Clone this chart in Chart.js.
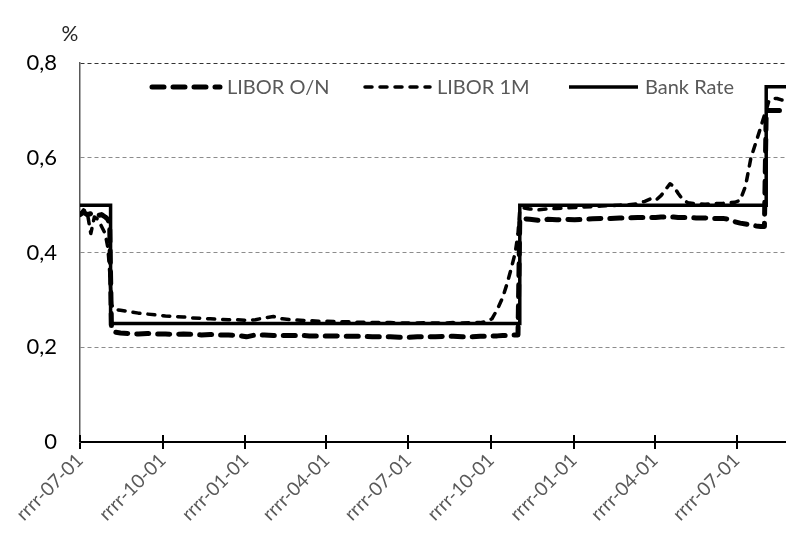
<!DOCTYPE html>
<html>
<head>
<meta charset="utf-8">
<script src="https://cdn.jsdelivr.net/npm/chart.js@4.4.1/dist/chart.umd.min.js"></script>
<style>
  html, body { margin: 0; padding: 0; background: #fff; }
  #wrap { width: 786px; height: 544px; position: relative; }
</style>
</head>
<body>
<div id="wrap"><canvas id="myChart"></canvas></div>
<script>
// days since 2016-07-01
var days = [0, 4, 8, 12, 16, 20, 24, 28, 31, 33, 35, 38, 45, 55, 65, 75, 85, 95, 105, 115,
    125, 135, 145, 155, 165, 175, 185, 195, 205, 215, 225, 235, 245, 255, 265, 275, 285, 295,
    305, 315, 325, 335, 345, 355, 365, 375, 385, 395, 405, 415, 425, 435, 445, 452, 458, 464,
    470, 475, 480, 484, 487, 489, 491, 500, 510, 520, 530, 540, 550, 560, 570, 580, 590, 600,
    610, 620, 628, 634, 640, 646, 652, 656, 660, 665, 670, 676, 685, 695, 705, 715, 722, 728,
    734, 740, 746, 752, 757, 761, 763, 766, 770, 775, 780, 785];

var liborON = [0.48, 0.485, 0.48, 0.482, 0.48, 0.478, 0.48, 0.475, 0.47, 0.46, 0.24, 0.232,
    0.23, 0.229, 0.228, 0.229, 0.228, 0.228, 0.227, 0.228, 0.227, 0.226, 0.227, 0.226, 0.226,
    0.225, 0.222, 0.226, 0.226, 0.225, 0.225, 0.225, 0.225, 0.224, 0.224, 0.224, 0.224, 0.223,
    0.223, 0.223, 0.222, 0.222, 0.222, 0.221, 0.221, 0.222, 0.222, 0.222, 0.223, 0.223, 0.222,
    0.222, 0.223, 0.223, 0.224, 0.224, 0.225, 0.225, 0.226, 0.226, 0.226, 0.47, 0.472, 0.47,
    0.468, 0.47, 0.469, 0.47, 0.469, 0.47, 0.471, 0.472, 0.472, 0.473, 0.473, 0.474, 0.474,
    0.474, 0.474, 0.475, 0.475, 0.475, 0.475, 0.474, 0.474, 0.474, 0.473, 0.473, 0.472, 0.472,
    0.47, 0.465, 0.462, 0.46, 0.458, 0.456, 0.455, 0.455, 0.70, 0.70, 0.70, 0.70, 0.70, 0.70];

var libor1M = [0.48, 0.49, 0.485, 0.44, 0.475, 0.47, 0.455, 0.44, 0.41, 0.36, 0.29, 0.28,
    0.278, 0.275, 0.272, 0.27, 0.268, 0.266, 0.265, 0.264, 0.262, 0.261, 0.26, 0.259, 0.258,
    0.258, 0.257, 0.258, 0.262, 0.265, 0.26, 0.258, 0.257, 0.256, 0.255, 0.255, 0.254, 0.254,
    0.253, 0.253, 0.252, 0.252, 0.252, 0.251, 0.251, 0.251, 0.252, 0.251, 0.251, 0.252, 0.251,
    0.252, 0.252, 0.254, 0.26, 0.28, 0.305, 0.335, 0.37, 0.40, 0.44, 0.49, 0.495, 0.492,
    0.49, 0.492, 0.493, 0.494, 0.495, 0.496, 0.497, 0.498, 0.499, 0.5, 0.501, 0.503, 0.508,
    0.513, 0.51, 0.52, 0.535, 0.545, 0.54, 0.525, 0.512, 0.505, 0.503, 0.502, 0.503, 0.504,
    0.505, 0.506, 0.51, 0.54, 0.60, 0.635, 0.665, 0.69, 0.70, 0.72, 0.725, 0.725, 0.722, 0.72];

var bankDays = [0, 34, 489, 763, 785];
var bankRate = [0.5, 0.25, 0.5, 0.75, 0.75];

var tickDays = [0, 92, 184, 274, 365, 457, 549, 639, 730];
var tickLabels = ["rrrr-07-01", "rrrr-10-01", "rrrr-01-01", "rrrr-04-01", "rrrr-07-01",
    "rrrr-10-01", "rrrr-01-01", "rrrr-04-01", "rrrr-07-01"];

var seriesNames = ["LIBOR O/N", "LIBOR 1M", "Bank Rate"];

function pts(xs, ys) {
    return xs.map(function (x, i) { return { x: x, y: ys[i] }; });
}

var FONT = "Lato, 'Open Sans', sans-serif";

// legend drawn inside the plot, plus "%" and inner tick marks
var extras = {
    id: "extras",
    afterDraw: function (chart) {
        var ctx = chart.ctx;
        var xs = chart.scales.x;
        var bottom = chart.chartArea.bottom;
        ctx.save();
        ctx.strokeStyle = "#000";
        ctx.lineWidth = 2;
        tickDays.forEach(function (d) {
            var px = Math.round(xs.getPixelForValue(d));
            ctx.beginPath();
            ctx.moveTo(px, bottom);
            ctx.lineTo(px, bottom - 7);
            ctx.stroke();
        });

        ctx.fillStyle = "#262626";
        ctx.font = "21px " + FONT;
        ctx.textAlign = "center";
        ctx.textBaseline = "middle";
        ctx.fillText("%", 70, 34);

        var items = [
            { x0: 152, x1: 220, tx: 227 },
            { x0: 365, x1: 430, tx: 437 },
            { x0: 569, x1: 638, tx: 645 }
        ];
        var ly = 87;
        ctx.textAlign = "left";
        ctx.font = "20px " + FONT;
        items.forEach(function (it, i) {
            var ds = chart.data.datasets[i];
            ctx.beginPath();
            ctx.setLineDash(ds.borderDash || []);
            ctx.lineWidth = ds.borderWidth;
            ctx.lineCap = ds.borderCapStyle || "butt";
            ctx.strokeStyle = "#000";
            ctx.moveTo(it.x0, ly);
            ctx.lineTo(it.x1, ly);
            ctx.stroke();
            ctx.setLineDash([]);
            ctx.fillStyle = "#595959";
            ctx.fillText(seriesNames[i], it.tx, ly + 1);
        });
        ctx.restore();
    }
};

document.addEventListener("DOMContentLoaded", function () {
    var ctx = document.getElementById("myChart").getContext("2d");
    new Chart(ctx, {
        type: "line",
        data: {
            datasets: [
                {
                    label: seriesNames[0],
                    data: pts(days, liborON),
                    borderColor: "#000",
                    borderWidth: 5,
                    borderDash: [12, 9],
                    borderCapStyle: "round",
                    borderJoinStyle: "round",
                    pointRadius: 0,
                    fill: false,
                },
                {
                    label: seriesNames[1],
                    data: pts(days, libor1M),
                    borderColor: "#000",
                    borderWidth: 3.5,
                    borderDash: [7, 8],
                    borderCapStyle: "round",
                    borderJoinStyle: "round",
                    pointRadius: 0,
                    fill: false,
                },
                {
                    label: seriesNames[2],
                    data: pts(bankDays, bankRate),
                    borderColor: "#000",
                    borderWidth: 3.5,
                    stepped: "before",
                    pointRadius: 0,
                    fill: false,
                },
            ],
        },
        options: {
            responsive: true,
            maintainAspectRatio: false,
            animation: false,
            layout: { padding: { top: 63, right: 0, left: 0, bottom: 0 } },
            plugins: {
                legend: { display: false },
                tooltip: { enabled: false },
                title: { display: false },
            },
            scales: {
                x: {
                    type: "linear",
                    min: 0,
                    max: 785,
                    afterBuildTicks: function (scale) {
                        scale.ticks = tickDays.map(function (d) { return { value: d }; });
                    },
                    afterFit: function (scale) {
                        scale.height = 102;
                    },
                    ticks: {
                        autoSkip: false,
                        minRotation: 45,
                        maxRotation: 45,
                        padding: 0,
                        color: "#595959",
                        font: { family: FONT, size: 19 },
                        callback: function (value) {
                            var i = tickDays.indexOf(value);
                            return i >= 0 ? tickLabels[i] : "";
                        },
                    },
                    grid: {
                        drawOnChartArea: false,
                        drawTicks: true,
                        tickLength: 7,
                        color: "#000",
                        lineWidth: 2,
                    },
                    border: { display: true, color: "#000", width: 2 },
                },
                y: {
                    min: 0,
                    max: 0.8,
                    afterFit: function (scale) {
                        scale.width = 80;
                    },
                    ticks: {
                        stepSize: 0.2,
                        padding: 23,
                        color: "#000",
                        font: { family: FONT, size: 22 },
                        callback: function (value) {
                            return value === 0 ? "0" : value.toFixed(1).replace(".", ",");
                        },
                    },
                    grid: {
                        drawTicks: false,
                        color: function (c) {
                            return c.tick && c.tick.value >= 0.79 ? "#333" : "#8c8c8c";
                        },
                        lineWidth: 1,
                    },
                    border: { display: true, color: "#595959", width: 1.5, dash: [4, 3] },
                },
            },
        },
        plugins: [extras],
    });
});
</script>
</body>
</html>
